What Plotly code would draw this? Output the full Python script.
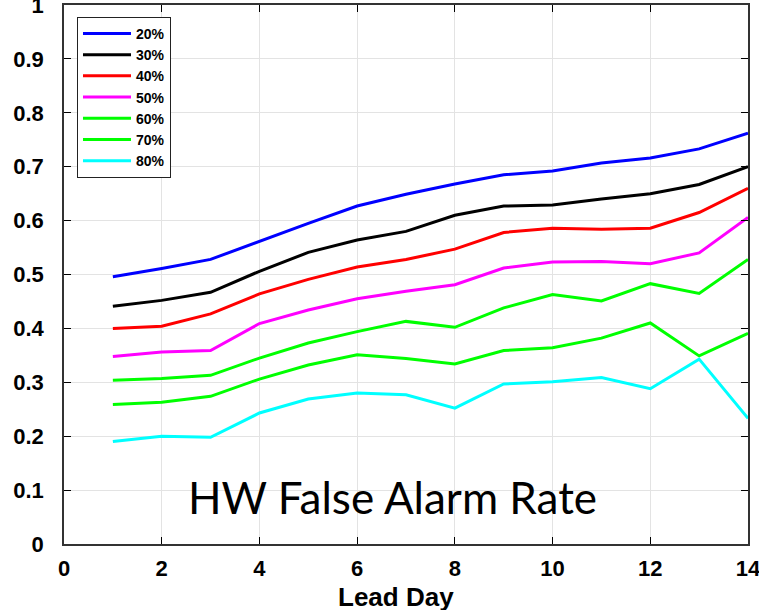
import plotly.graph_objects as go

lead_days = [1, 2, 3, 4, 5, 6, 7, 8, 9, 10, 11, 12, 13, 14]
series_names = ["20%", "30%", "40%", "50%", "60%", "70%", "80%"]
far_20 = [0.496, 0.511, 0.528, 0.562, 0.595, 0.627, 0.649, 0.668, 0.685, 0.692, 0.707, 0.716, 0.733, 0.762]
far_30 = [0.441, 0.452, 0.467, 0.506, 0.541, 0.564, 0.580, 0.610, 0.627, 0.629, 0.640, 0.650, 0.667, 0.700]
far_40 = [0.400, 0.404, 0.427, 0.464, 0.491, 0.514, 0.528, 0.547, 0.578, 0.586, 0.584, 0.586, 0.615, 0.660]
far_50 = [0.348, 0.356, 0.359, 0.409, 0.434, 0.455, 0.469, 0.481, 0.512, 0.523, 0.524, 0.520, 0.540, 0.606]
far_60 = [0.304, 0.307, 0.313, 0.345, 0.373, 0.394, 0.413, 0.402, 0.438, 0.463, 0.451, 0.483, 0.465, 0.528]
far_70 = [0.259, 0.263, 0.274, 0.306, 0.332, 0.351, 0.344, 0.334, 0.359, 0.364, 0.382, 0.410, 0.349, 0.391]
far_80 = [0.190, 0.200, 0.198, 0.243, 0.269, 0.280, 0.277, 0.252, 0.297, 0.301, 0.309, 0.288, 0.343, 0.233]
colors = ["#0000ff", "#000000", "#ff0000", "#ff00ff", "#00ff00", "#00ff00", "#00ffff"]
x_ticks = [0, 2, 4, 6, 8, 10, 12, 14]
y_ticks = [0, 0.1, 0.2, 0.3, 0.4, 0.5, 0.6, 0.7, 0.8, 0.9, 1]
y_tick_text = ["0", "0.1", "0.2", "0.3", "0.4", "0.5", "0.6", "0.7", "0.8", "0.9", "1"]
x_title = "Lead Day"
chart_label = "HW False Alarm Rate"

all_series = [far_20, far_30, far_40, far_50, far_60, far_70, far_80]

fig = go.Figure()
for name, vals, col in zip(series_names, all_series, colors):
    fig.add_trace(go.Scatter(x=lead_days, y=vals, mode="lines", name=name,
                             line=dict(color=col, width=3), cliponaxis=False))

bold = "Liberation Sans"
fig.update_layout(
    width=759, height=610,
    margin=dict(l=64, r=11, t=5, b=66),
    paper_bgcolor="white", plot_bgcolor="white",
    font=dict(family=bold, color="black"),
    showlegend=True,
    legend=dict(x=0.019, y=0.978, xanchor="left", yanchor="top",
                bordercolor="#222", borderwidth=1, bgcolor="white",
                font=dict(family=bold, size=14, weight="bold"),
                tracegroupgap=0, itemwidth=48),
    xaxis=dict(range=[0, 14], tickvals=x_ticks, ticks="inside", ticklen=7,
               tickcolor="black", showline=True, linecolor="#333", linewidth=1.5,
               mirror="ticks", showgrid=True, gridcolor="#e3e3e3", zeroline=False,
               automargin=False, ticklabeloverflow="allow",
               tickfont=dict(family=bold, size=22, weight="bold"),
               ticklabelstandoff=4),
    yaxis=dict(range=[0, 1], tickvals=y_ticks, ticktext=y_tick_text, ticks="inside",
               ticklen=7, tickcolor="black", showline=True, linecolor="#333",
               linewidth=1.5, mirror="ticks", showgrid=True, gridcolor="#e3e3e3",
               zeroline=False, ticklabelstandoff=14, automargin=False,
               ticklabeloverflow="allow",
               tickfont=dict(family=bold, size=22, weight="bold")),
)
fig.add_annotation(text=x_title, x=0.4854, y=-0.0985, xref="paper", yref="paper",
                   showarrow=False, xanchor="center", yanchor="middle",
                   font=dict(family=bold, size=26, weight="bold", color="black"))
fig.add_annotation(text=chart_label, x=0.48, y=0.088, xref="paper", yref="paper",
                   showarrow=False, xanchor="center", yanchor="middle",
                   font=dict(family="Lato", size=44, color="black"))

fig.write_html("out.html", config={"displayModeBar": False},
               post_script="document.body.style.margin='0';")
